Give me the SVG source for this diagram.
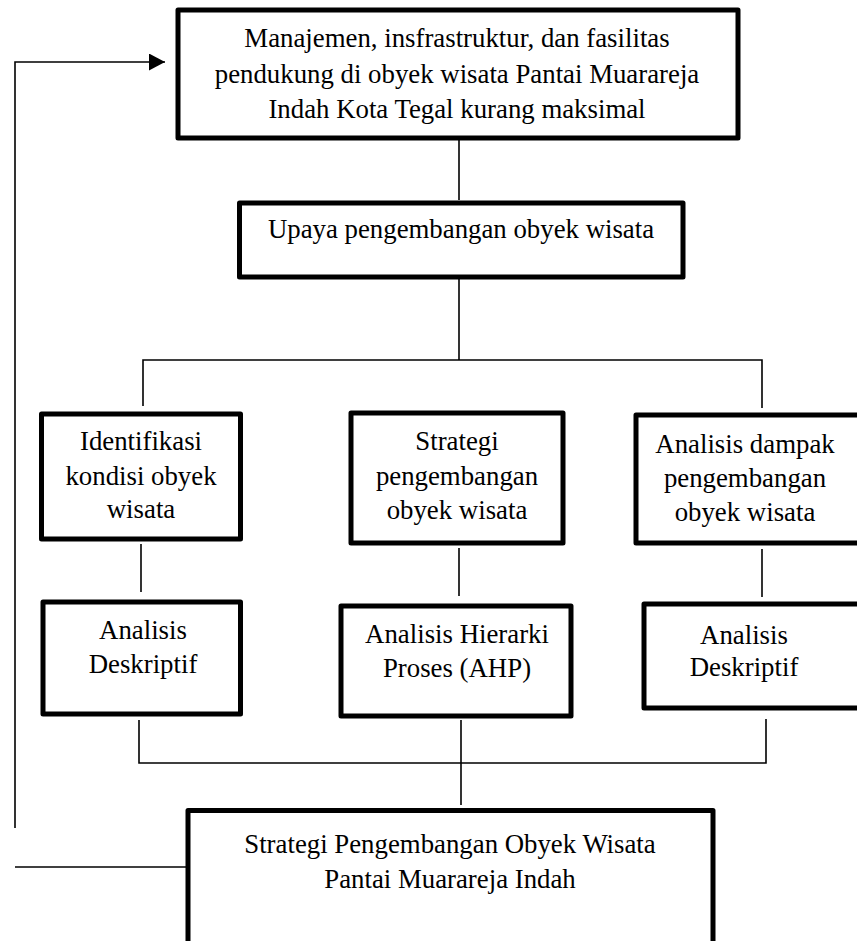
<svg xmlns="http://www.w3.org/2000/svg" width="857" height="941" viewBox="0 0 857 941">
<defs>
<style>
.box{fill:#fff;stroke:#000;stroke-width:5;stroke-linejoin:round}
.ln{fill:none;stroke:#000;stroke-width:1.6}
text{font-family:"Liberation Serif","Times New Roman",serif;font-size:26.8px;fill:#000;text-anchor:middle}
</style>
<marker id="ah" markerWidth="16" markerHeight="17" refX="16" refY="8.5" orient="auto" markerUnits="userSpaceOnUse">
<path d="M0,0 L16,8.5 L0,17 Z" fill="#000"/>
</marker>
</defs>
<rect width="857" height="941" fill="#fff"/>
<g id="connectors">
<line class="ln" x1="459" y1="140" x2="459" y2="200"/>
<line class="ln" x1="459" y1="279" x2="459" y2="360"/>
<polyline class="ln" points="143,406 143,360 762,360 762,408"/>
<line class="ln" x1="141" y1="544" x2="141" y2="592"/>
<line class="ln" x1="459" y1="548" x2="459" y2="596"/>
<line class="ln" x1="762" y1="549" x2="762" y2="597"/>
<polyline class="ln" points="139,720 139,763 766,763 766,719"/>
<line class="ln" x1="461" y1="720" x2="461" y2="805"/>
<polyline class="ln" points="15,828 15,62 165,62" marker-end="url(#ah)"/>
<line class="ln" x1="15" y1="867" x2="186" y2="867"/>
</g>
<g id="n1">
<rect class="box" x="178" y="10" width="560" height="128"/>
<text x="457" y="47">Manajemen, insfrastruktur, dan fasilitas</text>
<text x="457" y="82.5">pendukung di obyek wisata Pantai Muarareja</text>
<text x="457" y="118">Indah Kota Tegal kurang maksimal</text>
</g>
<g id="n2">
<rect class="box" x="239.5" y="203" width="443.5" height="74"/>
<text x="461" y="238">Upaya pengembangan obyek wisata</text>
</g>
<g id="n3">
<rect class="box" x="41.5" y="414" width="199" height="125"/>
<text x="141" y="450">Identifikasi</text>
<text x="141" y="485">kondisi obyek</text>
<text x="141" y="518">wisata</text>
</g>
<g id="n4">
<rect class="box" x="351" y="413" width="212" height="130"/>
<text x="457" y="450">Strategi</text>
<text x="457" y="485">pengembangan</text>
<text x="457" y="519">obyek wisata</text>
</g>
<g id="n5">
<rect class="box" x="636" y="415" width="230" height="128"/>
<text x="745" y="453">Analisis dampak</text>
<text x="745" y="487">pengembangan</text>
<text x="745" y="521">obyek wisata</text>
</g>
<g id="n6">
<rect class="box" x="43" y="602" width="197.5" height="112"/>
<text x="143" y="639">Analisis</text>
<text x="143" y="673">Deskriptif</text>
</g>
<g id="n7">
<rect class="box" x="341" y="606" width="230" height="110"/>
<text x="457" y="643">Analisis Hierarki</text>
<text x="457" y="677">Proses (AHP)</text>
</g>
<g id="n8">
<rect class="box" x="644" y="604" width="222" height="104"/>
<text x="744" y="644">Analisis</text>
<text x="744" y="676">Deskriptif</text>
</g>
<g id="n9">
<rect class="box" x="188" y="810.5" width="525" height="160"/>
<text x="450" y="853">Strategi Pengembangan Obyek Wisata</text>
<text x="450" y="888">Pantai Muarareja Indah</text>
</g>
</svg>
